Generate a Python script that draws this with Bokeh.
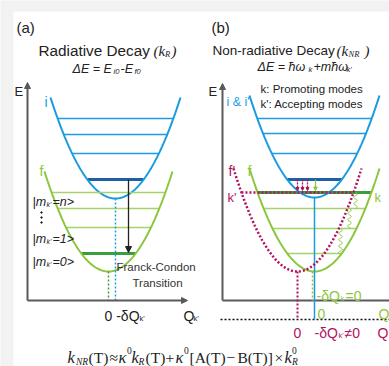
import numpy as np
from bokeh.plotting import figure
from bokeh.models import Range1d, Arrow, NormalHead
from bokeh.core.properties import value
from bokeh.embed import file_html
from bokeh.resources import INLINE

# ---------------- data (schematic geometry, pixel space) ----------------
# potential curves: vertex x, vertex y, half width, height
curve_names = ["a_i", "a_f", "b_i", "b_f", "b_fp"]
curve_xv = [115, 108, 314, 314, 297]
curve_yv = [198, 271, 197, 271, 271]
curve_hw = [65, 64, 65, 65, 64]
curve_h = [101, 100, 102, 103, 103]

# vibrational levels (y) per curve
a_i_levels = [118, 134, 153]
a_i_ground = [179]
a_f_levels = [192, 208, 227]
a_f_ground = [253]
b_i_levels = [118, 133, 153]
b_i_ground = [179]
b_f_levels = [208, 228, 253]
b_f_k = [192]
b_fp_k = [192]

# squiggles (x, top, bottom)
sq_x = [355, 349, 340]
sq_top = [192, 208, 228]
sq_bot = [208, 228, 253]

# magenta dotted arrows x
mag_arrow_x = [297, 302, 307]

BLUE = "#1c9be0"
BLUE_D = "#1f5fa6"
GREEN = "#8cc63e"
GREEN_L = "#a4d26b"
GREEN_D = "#3a9e3a"
MAG = "#b01360"
GRAY = "#5a5a5a"
TXT = "#222222"
SANS = "Liberation Sans"
SERIF = "Liberation Serif"

p = figure(width=389, height=366, x_range=Range1d(0, 389), y_range=Range1d(366, 0),
           output_backend="svg", toolbar_location=None, min_border=0)
p.axis.visible = False
p.grid.visible = False
p.outline_line_color = None
p.background_fill_color = "#f2f2f2"
p.border_fill_color = "#f2f2f2"
p.quad(left=[13], right=[389], top=[11], bottom=[366], fill_color="white", line_color=None)

def curve(i):
    xv, yv, hw, h = curve_xv[i], curve_yv[i], curve_hw[i], curve_h[i]
    xs = np.linspace(xv - hw, xv + hw, 121)
    ys = yv - h * ((xs - xv) / hw) ** 2
    return xs, ys

def span(i, y):
    xv, yv, hw, h = curve_xv[i], curve_yv[i], curve_hw[i], curve_h[i]
    d = hw * np.sqrt(max(yv - y, 0) / h)
    return xv - d, xv + d

def levels(i, ys, color, width, dash="solid"):
    x0, x1 = [], []
    for y in ys:
        a, b = span(i, y)
        x0.append(a); x1.append(b)
    p.segment(x0=x0, y0=ys, x1=x1, y1=ys, line_color=color, line_width=width, line_dash=dash)

def txt(x, y, s, size, color=TXT, font=SANS, style="normal", align="left"):
    p.text(x=[x], y=[y], text=[s], text_font=value(font), text_font_size=value(f"{size}px"),
           text_font_style=style, text_color=color, text_baseline="alphabetic", text_align=align)

def arrow(x0, y0, x1, y1, color, width=1.5, size=6, dash="solid"):
    p.add_layout(Arrow(end=NormalHead(size=size, fill_color=color, line_color=color, line_width=1),
                       x_start=x0, y_start=y0, x_end=x1, y_end=y1,
                       line_color=color, line_width=width, line_dash=dash))

# ---------------- axes ----------------
arrow(27, 300, 27, 82, GRAY, 2, 6)
arrow(27, 300, 187, 300, GRAY, 2, 6)
arrow(222, 300, 222, 83, GRAY, 2, 6)
p.segment(x0=[222], y0=[300], x1=[389], y1=[300], line_color=GRAY, line_width=2)
p.segment(x0=[220], y0=[319], x1=[389], y1=[319], line_color="#111111", line_width=1.5, line_dash="2 2")

# ---------------- panel (a) ----------------
xs, ys = curve(0)
levels(0, a_i_levels, BLUE, 1.5)
levels(0, a_i_ground, BLUE_D, 3)
p.line(xs, ys, line_color=BLUE, line_width=2)
xs, ys = curve(1)
levels(1, a_f_levels, GREEN_L, 1.5)
levels(1, a_f_ground, GREEN_D, 3)
p.line(xs, ys, line_color=GREEN, line_width=2)
p.segment(x0=[curve_xv[0]], y0=[curve_yv[0]], x1=[curve_xv[0]], y1=[300], line_color=BLUE, line_width=1.5, line_dash="2 2")
p.segment(x0=[curve_xv[1]], y0=[curve_yv[1]], x1=[curve_xv[1]], y1=[300], line_color=GREEN_D, line_width=1.5, line_dash="2 2")
arrow(128, a_i_ground[0], 128, a_f_ground[0] - 1, "#222222", 1.3, 6)
p.scatter(x=[41, 41, 41], y=[212, 217, 222], size=1.5, color=TXT)

# ---------------- panel (b) ----------------
levels(3, b_f_levels, GREEN_L, 1.5)
levels(3, b_f_k, GREEN_D, 3)
xs, ys = curve(3)
p.line(xs, ys, line_color=GREEN, line_width=2)
xs, ys = curve(2)
levels(2, b_i_levels, BLUE, 1.5)
levels(2, b_i_ground, BLUE_D, 3)
p.line(xs, ys, line_color=BLUE, line_width=2)
p.segment(x0=[curve_xv[2]], y0=[curve_yv[2]], x1=[curve_xv[2]], y1=[319], line_color=BLUE, line_width=1.5)
p.segment(x0=[curve_xv[3] - 2], y0=[curve_yv[3]], x1=[curve_xv[3] - 2], y1=[300], line_color=GREEN, line_width=1.5, line_dash="2 2")
xs, ys = curve(4)
p.line(xs, ys, line_color=MAG, line_width=2.5, line_dash="2 2")
a, b = span(4, b_fp_k[0])
p.segment(x0=[a], y0=b_fp_k, x1=[b], y1=b_fp_k, line_color=MAG, line_width=2.5, line_dash="2 2")
p.segment(x0=[curve_xv[4]], y0=[curve_yv[4]], x1=[curve_xv[4]], y1=[319], line_color=MAG, line_width=2, line_dash="2 2")
for xm in mag_arrow_x:
    arrow(xm, b_i_ground[0], xm, b_f_k[0] - 2, MAG, 1.3, 3, "2 1")
arrow(315, b_i_ground[0], 315, b_f_k[0] - 2, GREEN, 1.2, 3.5)
for x, t, bt in zip(sq_x, sq_top, sq_bot):
    yy = np.linspace(t, bt, 60)
    xx = x + 1.8 * np.sin((yy - t) / 3.2 * 2 * np.pi / 2)
    p.line(xx, yy, line_color=GREEN, line_width=1)

# ---------------- texts ----------------
txt(16, 27, "(a)", 15)
txt(211, 27, "(b)", 15)
txt(38, 50, "Radiative Decay", 15.3)
txt(153, 50, "(", 15, font=SERIF, style="italic")
txt(158, 50, "k", 15, font=SERIF, style="italic")
txt(164.5, 53, "R", 8.5, font=SERIF, style="italic")
txt(171, 50, ")", 15, font=SERIF, style="italic")
txt(212, 50, "Non-radiative Decay", 13.5)
txt(336, 50, "(", 15, font=SERIF, style="italic")
txt(341, 50, "k", 15, font=SERIF, style="italic")
txt(348, 53, "NR", 8.5, font=SERIF, style="italic")
txt(364, 50, ")", 15, font=SERIF, style="italic")
# Delta E (a)
txt(72, 68, "ΔE = E", 12.5, style="italic")
txt(113, 71, "i0", 7.5, style="italic")
txt(120, 68, "-E", 12.5, style="italic")
txt(134, 71, "f0", 7.5, style="italic")
# Delta E (b)
txt(257, 66, "ΔE = ħω", 12.5, style="italic")
txt(308, 69, "k", 7.5, style="italic")
txt(313, 66, "+mħω", 12.5, style="italic")
txt(346, 69, "k'", 7.5, style="italic")
txt(260, 88, "k: Promoting modes", 11.5)
txt(260, 103, "k': Accepting modes", 11.5)
# axis labels
txt(14, 91, "E", 13)
txt(208, 91, "E", 13)
txt(44, 101, "i", 14, color=BLUE)
txt(226, 101, "i & i'", 12.5, color=BLUE)
txt(39, 170, "f", 14, color=GREEN)
txt(247, 170, "f", 14, color=GREEN)
txt(228, 170, "f'", 14, color=MAG)
txt(227, 197, "k'", 13, color=MAG)
txt(374, 197, "k", 13, color=GREEN)
for yb, s in zip([201, 238, 261], ["=n>", "=1>", "=0>"]):
    txt(32, yb, "|m", 12.5, style="italic")
    txt(46, yb + 3, "k'", 7, style="italic")
    txt(52, yb, s, 12.5, style="italic")
txt(116, 266, "Franck-Condon", 11.5, color="#333333")
txt(132, 282, "Transition", 11.5, color="#333333")
txt(104, 315, "0 -δQ", 14)
txt(139, 318, "k'", 7.5)
txt(183, 315, "Q", 14)
txt(193, 318, "k'", 7.5)
txt(316, 295, "-δQ", 14, color=GREEN)
txt(340, 298, "k", 7.5, color=GREEN)
txt(345, 295, "=0", 14, color=GREEN)
txt(317, 313, "0", 14, color=GREEN)
txt(378, 313, "Q", 14, color=GREEN)
txt(293, 332, "0", 14, color=MAG)
txt(314, 332, "-δQ", 14, color=MAG)
txt(338, 335, "k'", 7.5, color=MAG)
txt(344, 332, "≠0", 14, color=MAG)
txt(377, 332, "Q", 14, color=MAG)
# formula
FS = 15.5
txt(67, 357, "k", FS + 1, font=SERIF, style="italic")
txt(75.5, 361, "NR", 9.5, font=SERIF, style="italic")
txt(88, 357, "(T)", FS, font=SERIF)
txt(109, 357, "≈", FS, font=SERIF)
txt(118, 357, "κ", FS + 1, font=SERIF, style="italic")
txt(126.5, 350, "0", 9.5, font=SERIF)
txt(131, 357, "k", FS + 1, font=SERIF, style="italic")
txt(138, 361, "R", 9.5, font=SERIF, style="italic")
txt(145, 357, "(T)", FS, font=SERIF)
txt(165, 357, "+", FS, font=SERIF)
txt(175, 357, "κ", FS + 1, font=SERIF, style="italic")
txt(183.5, 350, "0", 9.5, font=SERIF)
txt(189, 357, "[A(T)", FS, font=SERIF)
txt(226, 357, "−", FS, font=SERIF)
txt(237, 357, "B(T)]", FS, font=SERIF)
txt(274, 357, "×", FS, font=SERIF)
txt(284, 357, "k", FS + 1, font=SERIF, style="italic")
txt(291.5, 361, "R", 9.5, font=SERIF, style="italic")
txt(291.5, 350, "0", 9.5, font=SERIF)

open("out.html", "w").write(file_html(p, INLINE))
